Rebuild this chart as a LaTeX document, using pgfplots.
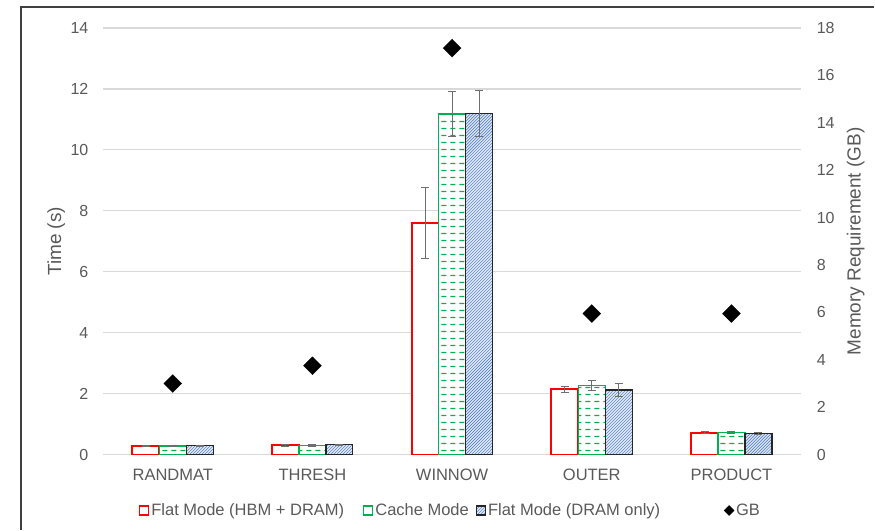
\documentclass[border=0pt]{standalone}
\usepackage{pgfplots}
\usepackage{pgfplotstable}
\pgfplotsset{compat=1.18}
\usepackage{fontspec}
\setmainfont{Liberation Sans}
\usetikzlibrary{patterns}
\definecolor{txt}{RGB}{89,89,89}
\definecolor{gridc}{RGB}{217,217,217}
\definecolor{barred}{RGB}{255,0,0}
\definecolor{bargreen}{RGB}{0,176,80}
\definecolor{barblue}{RGB}{68,114,196}
\definecolor{barbluebg}{RGB}{222,231,245}
\definecolor{errc}{RGB}{110,110,110}
\pgfdeclarepatternformonly{hdash}{\pgfqpoint{0pt}{0pt}}{\pgfqpoint{9pt}{7pt}}{\pgfqpoint{9pt}{7pt}}{%
  \pgfsetlinewidth{1.3pt}\pgfpathmoveto{\pgfqpoint{1.5pt}{3.5pt}}\pgfpathlineto{\pgfqpoint{6.5pt}{3.5pt}}\pgfusepath{stroke}}

\pgfplotstableread{
x y e
0 0.28 0.02
1 0.30 0.02
2 7.60 1.15
3 2.15 0.10
4 0.72 0.03
}\flat
\pgfplotstableread{
x y e
0 0.28 0.02
1 0.30 0.02
2 11.18 0.74
3 2.27 0.15
4 0.73 0.03
}\cache
\pgfplotstableread{
x y e
0 0.29 0.02
1 0.32 0.02
2 11.20 0.75
3 2.12 0.20
4 0.68 0.03
}\dram
\pgfplotstableread{
x y
0 3.0
1 3.75
2 17.15
3 5.95
4 5.95
}\gb

\begin{document}
\begin{tikzpicture}
\path (0,0) rectangle (875pt,530pt);
\draw[line width=1.5pt, black!75] (21pt,0pt) -- (21pt,523pt) -- (875pt,523pt);
\pgfplotsset{
  base/.style={
    scale only axis, width=699pt, height=427pt,
    at={(103pt,75pt)}, anchor=south west,
    xmin=-0.5, xmax=4.5,
    axis line style={draw=none},
    tick style={draw=none},
    ticklabel style={text=txt, font=\fontsize{16}{19}\selectfont},
    label style={text=txt, font=\fontsize{19}{22}\selectfont},
    /pgf/number format/assume math mode=true,
  },
  errs/.style={draw=none, mark=none, forget plot,
    error bars/.cd, y dir=both, y explicit,
    error bar style={draw=errc, line width=1pt},
    error mark options={rotate=90, draw=errc, mark size=4pt, line width=1pt}},
}
\begin{axis}[base,
  ymin=0, ymax=14, ytick={0,2,...,14},
  ymajorgrids, grid style={gridc, line width=1.2pt},
  xtick={0,1,2,3,4},
  xticklabels={RANDMAT,THRESH,WINNOW,OUTER,PRODUCT},
  ylabel={Time (s)}, ylabel style={at={(-0.049,0.5)}},
  yticklabel style={xshift=-11pt},
  xticklabel style={yshift=-11pt, font=\fontsize{16.5}{19}\selectfont},
]
\addplot[ybar, bar width=27pt, bar shift=-27pt, draw=barred, fill=white, line width=2pt]
  table[x=x, y=y] {\flat};
\addplot[ybar, bar width=27pt, bar shift=0pt, draw=bargreen, fill=white, line width=1.2pt,
  postaction={pattern=hdash, pattern color=bargreen}] table[x=x, y=y] {\cache};
\addplot[ybar, bar width=27pt, bar shift=27pt, draw=black!85, fill=barbluebg, line width=1.2pt,
  postaction={pattern=north east lines, pattern color=barblue}] table[x=x, y=y] {\dram};
\addplot[errs] table[x expr=\thisrow{x}-0.1931, y=y, y error=e] {\flat};
\addplot[errs] table[x=x, y=y, y error=e] {\cache};
\addplot[errs] table[x expr=\thisrow{x}+0.1931, y=y, y error=e] {\dram};
\end{axis}
\begin{axis}[base,
  ymin=0, ymax=18, ytick={0,2,...,18},
  axis y line*=right, axis x line=none,
  xtick=\empty,
  ylabel={Memory Requirement (GB)}, ylabel style={at={(1.060,0.5)}},
  yticklabel style={xshift=12pt},
  legend columns=4,
  legend style={at={(0.0465,-0.131)}, anchor=west, draw=none, fill=none,
    text=txt, font=\fontsize{16.5}{19}\selectfont,
    /tikz/column 2/.style={column sep=17pt},
    /tikz/column 4/.style={column sep=5pt},
    /tikz/column 6/.style={column sep=62pt}},
  legend cell align=left,
]
\addlegendimage{area legend, legend image code/.code={\draw[barred, fill=white, line width=1.8pt] (0pt,-4.5pt) rectangle (9pt,4.5pt);}}
\addlegendentry{Flat Mode (HBM + DRAM)}
\addlegendimage{area legend, legend image code/.code={\draw[bargreen, fill=white, line width=1.2pt] (0pt,-4.5pt) rectangle (9pt,4.5pt);}}
\addlegendentry{Cache Mode}
\addlegendimage{area legend, legend image code/.code={\draw[black!85, fill=barbluebg, line width=1.2pt, postaction={pattern=north east lines, pattern color=barblue}] (0pt,-4.5pt) rectangle (9pt,4.5pt);}}
\addlegendentry{Flat Mode (DRAM only)}
\addplot[only marks, mark=square*, mark size=6.3pt, mark options={rotate=45, fill=black, draw=black},
  legend image post style={mark size=3.5pt}] table[x=x, y=y] {\gb};
\addlegendentry{GB}
\end{axis}
\end{tikzpicture}
\end{document}
